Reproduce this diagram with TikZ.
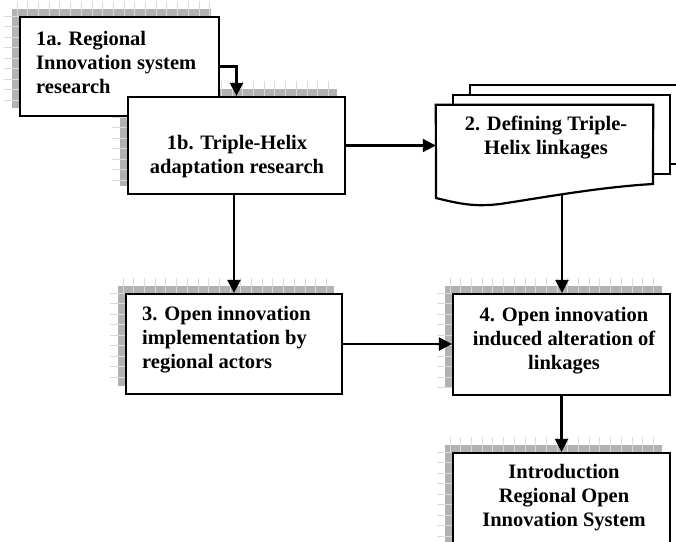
\documentclass[tikz,border=0pt]{standalone}
\usepackage{fontspec}
\setmainfont{Liberation Serif}
\usetikzlibrary{arrows.meta,calc}
\tikzset{
  box/.style={draw=black, line width=2.2pt, fill=white, inner sep=0pt, rectangle},
  lbl/.style={font=\fontsize{20.5}{24}\selectfont\bfseries, inner sep=0pt},
  arr/.style={line width=2.2pt, -{Triangle[length=13pt,width=13pt]}},
  shade/.style={fill={rgb,255:red,178;green,178;blue,178}, draw=none},
  tick/.style={draw={rgb,255:red,218;green,218;blue,218}, line width=0.8pt},
  page/.style={draw=black, line width=2.2pt, fill=white},
}
\newcommand\boxshadow[4]{%
  \fill[shade] ({#1-8},{#2-8}) rectangle ({#3-8},{#4-8});
  \begin{scope}
    \clip ({#1-8},{#2-16}) rectangle ({#3-8},{#2});
    \foreach \i in {0,...,22} \draw[tick] ({#1-3+\i*10.7},{#2-16}) -- ++(0,16);
  \end{scope}
  \begin{scope}
    \clip ({#1-16},{#2-8}) rectangle ({#1},{#4-8});
    \foreach \i in {0,...,12} \draw[tick] ({#1-16},{#2-1+\i*10.5}) -- ++(16,0);
  \end{scope}
}
\begin{document}
\begin{tikzpicture}[x=1pt, y=-1pt]
\useasboundingbox (0,0) rectangle (676,541);
\clip (0,0) rectangle (676,541);
\fill[white] (0,0) rectangle (676,541);

% shadows
\boxshadow{20}{17}{219}{116}
\boxshadow{128}{97}{345}{194}
\boxshadow{126}{294}{342}{394}
\boxshadow{453}{294}{670}{395}
\boxshadow{453}{453}{670}{560}

% boxes
\node[box, minimum width=199pt, minimum height=99pt] (b1a) at (119.5,66.5) {};
\node[box, minimum width=217pt, minimum height=97pt] (b1b) at (236.5,145.5) {};
\node[box, minimum width=216pt, minimum height=100pt] (b3) at (234,344) {};
\node[box, minimum width=217pt, minimum height=101pt] (b4) at (561.5,344.5) {};
\node[box, minimum width=217pt, minimum height=107pt] (b5) at (561.5,506.5) {};

% document stack
\draw[page] (470,85) -- (700,85) -- (700,164) -- (470,164) -- cycle;
\draw[page] (453,95) -- (670,95) -- (670,174) -- (453,174) -- cycle;
\node[inner sep=0pt, minimum width=217pt, minimum height=94pt] (d2) at (544.5,152) {};
\draw[page] (d2.north west) -- (d2.north east) -- (653,184)
  .. controls (600,187) and (540,198) .. (500,204)
  .. controls (475,207) and (460,204) .. (436,198) -- cycle;
\coordinate (d2b) at (562,194);

% labels (base anchor = baseline of last line)
\node[lbl, anchor=base west, align=left] (t1a) at (36,93) {1a. Regional\\Innovation system\\research};
\node[lbl, anchor=base, align=center] (t1b) at (237,173) {1b. Triple-Helix\\adaptation research};
\node[lbl, anchor=base, align=center] (t2) at (546,154) {2. Defining Triple-\\Helix linkages};
\node[lbl, anchor=base west, align=left] (t3) at (142,368) {3. Open innovation\\implementation by\\regional actors};
\node[lbl, anchor=base, align=center] (t4) at (564,369) {4. Open innovation\\induced alteration of\\linkages};
\node[lbl, anchor=base, align=center] (t5) at (564,526) {Introduction\\Regional Open\\Innovation System};

% connectors
\draw[arr] (b1a.east) -- (b1a.east -| b1b.north) -- (b1b.north);
\draw[arr] (b1b.east) -- (b1b.east -| d2.west);
\draw[arr] (b1b.south -| b3.north) -- (b3.north);
\draw[arr] (d2b) -- (d2b |- b4.north);
\draw[arr] (b3.east) -- (b3.east -| b4.west);
\draw[arr] (b4.south) -- (b5.north);
\end{tikzpicture}
\end{document}
